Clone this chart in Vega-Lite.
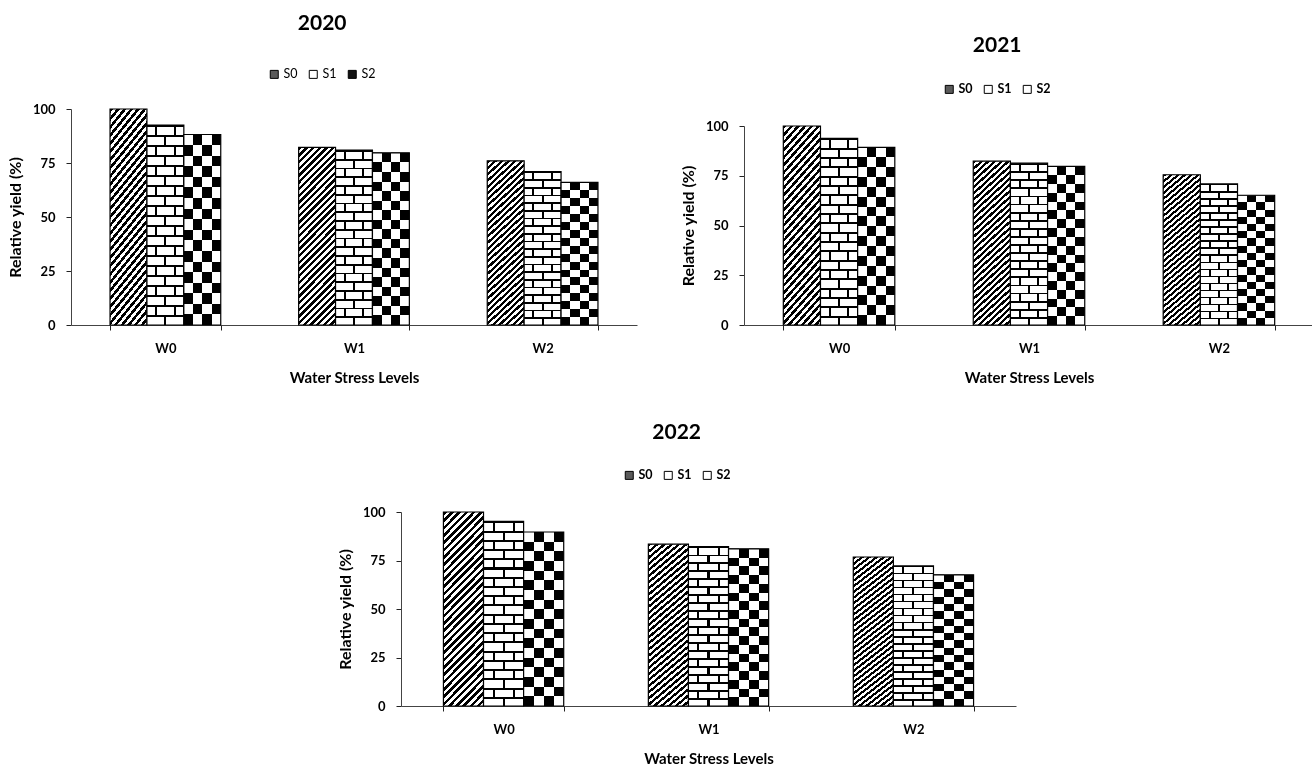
{
  "$schema": "https://vega.github.io/schema/vega-lite/v6.json",
  "background": "white",
  "padding": {"left": 7, "top": 12, "right": 0, "bottom": 0},
  "params": [
    {"name": "gHatch", "value": {"gradient": "linear", "x1": 0, "y1": 0, "x2": 0.243, "y2": 1.159, "stops": [
        {"offset": 0, "color": "#000"},
        {"offset": 0.0156, "color": "#000"}, {"offset": 0.0156, "color": "#fff"},
        {"offset": 0.0313, "color": "#fff"}, {"offset": 0.0313, "color": "#000"},
        {"offset": 0.0469, "color": "#000"}, {"offset": 0.0469, "color": "#fff"},
        {"offset": 0.0625, "color": "#fff"}, {"offset": 0.0625, "color": "#000"},
        {"offset": 0.0781, "color": "#000"}, {"offset": 0.0781, "color": "#fff"},
        {"offset": 0.0938, "color": "#fff"}, {"offset": 0.0938, "color": "#000"},
        {"offset": 0.1094, "color": "#000"}, {"offset": 0.1094, "color": "#fff"},
        {"offset": 0.125, "color": "#fff"}, {"offset": 0.125, "color": "#000"},
        {"offset": 0.1406, "color": "#000"}, {"offset": 0.1406, "color": "#fff"},
        {"offset": 0.1563, "color": "#fff"}, {"offset": 0.1563, "color": "#000"},
        {"offset": 0.1719, "color": "#000"}, {"offset": 0.1719, "color": "#fff"},
        {"offset": 0.1875, "color": "#fff"}, {"offset": 0.1875, "color": "#000"},
        {"offset": 0.2031, "color": "#000"}, {"offset": 0.2031, "color": "#fff"},
        {"offset": 0.2188, "color": "#fff"}, {"offset": 0.2188, "color": "#000"},
        {"offset": 0.2344, "color": "#000"}, {"offset": 0.2344, "color": "#fff"},
        {"offset": 0.25, "color": "#fff"}, {"offset": 0.25, "color": "#000"},
        {"offset": 0.2656, "color": "#000"}, {"offset": 0.2656, "color": "#fff"},
        {"offset": 0.2813, "color": "#fff"}, {"offset": 0.2813, "color": "#000"},
        {"offset": 0.2969, "color": "#000"}, {"offset": 0.2969, "color": "#fff"},
        {"offset": 0.3125, "color": "#fff"}, {"offset": 0.3125, "color": "#000"},
        {"offset": 0.3281, "color": "#000"}, {"offset": 0.3281, "color": "#fff"},
        {"offset": 0.3438, "color": "#fff"}, {"offset": 0.3438, "color": "#000"},
        {"offset": 0.3594, "color": "#000"}, {"offset": 0.3594, "color": "#fff"},
        {"offset": 0.375, "color": "#fff"}, {"offset": 0.375, "color": "#000"},
        {"offset": 0.3906, "color": "#000"}, {"offset": 0.3906, "color": "#fff"},
        {"offset": 0.4063, "color": "#fff"}, {"offset": 0.4063, "color": "#000"},
        {"offset": 0.4219, "color": "#000"}, {"offset": 0.4219, "color": "#fff"},
        {"offset": 0.4375, "color": "#fff"}, {"offset": 0.4375, "color": "#000"},
        {"offset": 0.4531, "color": "#000"}, {"offset": 0.4531, "color": "#fff"},
        {"offset": 0.4688, "color": "#fff"}, {"offset": 0.4688, "color": "#000"},
        {"offset": 0.4844, "color": "#000"}, {"offset": 0.4844, "color": "#fff"},
        {"offset": 0.5, "color": "#fff"}, {"offset": 0.5, "color": "#000"},
        {"offset": 0.5156, "color": "#000"}, {"offset": 0.5156, "color": "#fff"},
        {"offset": 0.5313, "color": "#fff"}, {"offset": 0.5313, "color": "#000"},
        {"offset": 0.5469, "color": "#000"}, {"offset": 0.5469, "color": "#fff"},
        {"offset": 0.5625, "color": "#fff"}, {"offset": 0.5625, "color": "#000"},
        {"offset": 0.5781, "color": "#000"}, {"offset": 0.5781, "color": "#fff"},
        {"offset": 0.5938, "color": "#fff"}, {"offset": 0.5938, "color": "#000"},
        {"offset": 0.6094, "color": "#000"}, {"offset": 0.6094, "color": "#fff"},
        {"offset": 0.625, "color": "#fff"}, {"offset": 0.625, "color": "#000"},
        {"offset": 0.6406, "color": "#000"}, {"offset": 0.6406, "color": "#fff"},
        {"offset": 0.6563, "color": "#fff"}, {"offset": 0.6563, "color": "#000"},
        {"offset": 0.6719, "color": "#000"}, {"offset": 0.6719, "color": "#fff"},
        {"offset": 0.6875, "color": "#fff"}, {"offset": 0.6875, "color": "#000"},
        {"offset": 0.7031, "color": "#000"}, {"offset": 0.7031, "color": "#fff"},
        {"offset": 0.7188, "color": "#fff"}, {"offset": 0.7188, "color": "#000"},
        {"offset": 0.7344, "color": "#000"}, {"offset": 0.7344, "color": "#fff"},
        {"offset": 0.75, "color": "#fff"}, {"offset": 0.75, "color": "#000"},
        {"offset": 0.7656, "color": "#000"}, {"offset": 0.7656, "color": "#fff"},
        {"offset": 0.7813, "color": "#fff"}, {"offset": 0.7813, "color": "#000"},
        {"offset": 0.7969, "color": "#000"}, {"offset": 0.7969, "color": "#fff"},
        {"offset": 0.8125, "color": "#fff"}, {"offset": 0.8125, "color": "#000"},
        {"offset": 0.8281, "color": "#000"}, {"offset": 0.8281, "color": "#fff"},
        {"offset": 0.8438, "color": "#fff"}, {"offset": 0.8438, "color": "#000"},
        {"offset": 0.8594, "color": "#000"}, {"offset": 0.8594, "color": "#fff"},
        {"offset": 0.875, "color": "#fff"}, {"offset": 0.875, "color": "#000"},
        {"offset": 0.8906, "color": "#000"}, {"offset": 0.8906, "color": "#fff"},
        {"offset": 0.9063, "color": "#fff"}, {"offset": 0.9063, "color": "#000"},
        {"offset": 0.9219, "color": "#000"}, {"offset": 0.9219, "color": "#fff"},
        {"offset": 0.9375, "color": "#fff"}, {"offset": 0.9375, "color": "#000"},
        {"offset": 0.9531, "color": "#000"}, {"offset": 0.9531, "color": "#fff"},
        {"offset": 0.9688, "color": "#fff"}, {"offset": 0.9688, "color": "#000"},
        {"offset": 0.9844, "color": "#000"}, {"offset": 0.9844, "color": "#fff"},
        {"offset": 1, "color": "#fff"}
    ]}},
    {"name": "gBrick1", "value": {"gradient": "linear", "x1": 0, "y1": 0, "x2": 0, "y2": 1, "stops": [
        {"offset": 0, "color": "#000"}, {"offset": 0.05, "color": "#000"}, {"offset": 0.05, "color": "#fff"}, {"offset": 0.1, "color": "#fff"},
        {"offset": 0.1, "color": "#000"}, {"offset": 0.15, "color": "#000"}, {"offset": 0.15, "color": "#fff"}, {"offset": 0.2, "color": "#fff"},
        {"offset": 0.2, "color": "#000"}, {"offset": 0.25, "color": "#000"}, {"offset": 0.25, "color": "#fff"}, {"offset": 0.3, "color": "#fff"},
        {"offset": 0.3, "color": "#000"}, {"offset": 0.35, "color": "#000"}, {"offset": 0.35, "color": "#fff"}, {"offset": 0.4, "color": "#fff"},
        {"offset": 0.4, "color": "#000"}, {"offset": 0.45, "color": "#000"}, {"offset": 0.45, "color": "#fff"}, {"offset": 0.5, "color": "#fff"},
        {"offset": 0.5, "color": "#000"}, {"offset": 0.55, "color": "#000"}, {"offset": 0.55, "color": "#fff"}, {"offset": 0.6, "color": "#fff"},
        {"offset": 0.6, "color": "#000"}, {"offset": 0.65, "color": "#000"}, {"offset": 0.65, "color": "#fff"}, {"offset": 0.7, "color": "#fff"},
        {"offset": 0.7, "color": "#000"}, {"offset": 0.75, "color": "#000"}, {"offset": 0.75, "color": "#fff"}, {"offset": 0.8, "color": "#fff"},
        {"offset": 0.8, "color": "#000"}, {"offset": 0.85, "color": "#000"}, {"offset": 0.85, "color": "#fff"}, {"offset": 0.9, "color": "#fff"},
        {"offset": 0.9, "color": "#000"}, {"offset": 0.95, "color": "#000"}, {"offset": 0.95, "color": "#fff"}, {"offset": 1, "color": "#fff"}
    ]}},
    {"name": "gBrick2", "value": {"gradient": "linear", "x1": 0, "y1": 0, "x2": 1, "y2": 0, "stops": [
        {"offset": 0, "color": "#fff"}, {"offset": 0.225, "color": "#fff"}, {"offset": 0.225, "color": "#000"}, {"offset": 0.275, "color": "#000"},
        {"offset": 0.275, "color": "#fff"}, {"offset": 0.475, "color": "#fff"}, {"offset": 0.475, "color": "#000"}, {"offset": 0.525, "color": "#000"},
        {"offset": 0.525, "color": "#fff"}, {"offset": 0.725, "color": "#fff"}, {"offset": 0.725, "color": "#000"}, {"offset": 0.775, "color": "#000"},
        {"offset": 0.775, "color": "#fff"}, {"offset": 1, "color": "#fff"}
    ]}},
    {"name": "gBrick3", "value": {"gradient": "linear", "x1": 0, "y1": 0, "x2": 1, "y2": 0, "stops": [
        {"offset": 0, "color": "#000"}, {"offset": 0.475, "color": "#000"}, {"offset": 0.475, "color": "#fff"}, {"offset": 0.525, "color": "#fff"},
        {"offset": 0.525, "color": "#000"}, {"offset": 1, "color": "#000"}
    ]}},
    {"name": "gBrick4", "value": {"gradient": "linear", "x1": 0, "y1": 0, "x2": 0, "y2": 1, "stops": [
        {"offset": 0, "color": "#000"}, {"offset": 0.011, "color": "#000"}, {"offset": 0.011, "color": "#fff"}, {"offset": 0.05, "color": "#fff"},
        {"offset": 0.05, "color": "#000"}, {"offset": 0.061, "color": "#000"}, {"offset": 0.061, "color": "#fff"}, {"offset": 0.1, "color": "#fff"},
        {"offset": 0.1, "color": "#000"}, {"offset": 0.111, "color": "#000"}, {"offset": 0.111, "color": "#fff"}, {"offset": 0.15, "color": "#fff"},
        {"offset": 0.15, "color": "#000"}, {"offset": 0.161, "color": "#000"}, {"offset": 0.161, "color": "#fff"}, {"offset": 0.2, "color": "#fff"},
        {"offset": 0.2, "color": "#000"}, {"offset": 0.211, "color": "#000"}, {"offset": 0.211, "color": "#fff"}, {"offset": 0.25, "color": "#fff"},
        {"offset": 0.25, "color": "#000"}, {"offset": 0.261, "color": "#000"}, {"offset": 0.261, "color": "#fff"}, {"offset": 0.3, "color": "#fff"},
        {"offset": 0.3, "color": "#000"}, {"offset": 0.311, "color": "#000"}, {"offset": 0.311, "color": "#fff"}, {"offset": 0.35, "color": "#fff"},
        {"offset": 0.35, "color": "#000"}, {"offset": 0.361, "color": "#000"}, {"offset": 0.361, "color": "#fff"}, {"offset": 0.4, "color": "#fff"},
        {"offset": 0.4, "color": "#000"}, {"offset": 0.411, "color": "#000"}, {"offset": 0.411, "color": "#fff"}, {"offset": 0.45, "color": "#fff"},
        {"offset": 0.45, "color": "#000"}, {"offset": 0.461, "color": "#000"}, {"offset": 0.461, "color": "#fff"}, {"offset": 0.5, "color": "#fff"},
        {"offset": 0.5, "color": "#000"}, {"offset": 0.511, "color": "#000"}, {"offset": 0.511, "color": "#fff"}, {"offset": 0.55, "color": "#fff"},
        {"offset": 0.55, "color": "#000"}, {"offset": 0.561, "color": "#000"}, {"offset": 0.561, "color": "#fff"}, {"offset": 0.6, "color": "#fff"},
        {"offset": 0.6, "color": "#000"}, {"offset": 0.611, "color": "#000"}, {"offset": 0.611, "color": "#fff"}, {"offset": 0.65, "color": "#fff"},
        {"offset": 0.65, "color": "#000"}, {"offset": 0.661, "color": "#000"}, {"offset": 0.661, "color": "#fff"}, {"offset": 0.7, "color": "#fff"},
        {"offset": 0.7, "color": "#000"}, {"offset": 0.711, "color": "#000"}, {"offset": 0.711, "color": "#fff"}, {"offset": 0.75, "color": "#fff"},
        {"offset": 0.75, "color": "#000"}, {"offset": 0.761, "color": "#000"}, {"offset": 0.761, "color": "#fff"}, {"offset": 0.8, "color": "#fff"},
        {"offset": 0.8, "color": "#000"}, {"offset": 0.811, "color": "#000"}, {"offset": 0.811, "color": "#fff"}, {"offset": 0.85, "color": "#fff"},
        {"offset": 0.85, "color": "#000"}, {"offset": 0.861, "color": "#000"}, {"offset": 0.861, "color": "#fff"}, {"offset": 0.9, "color": "#fff"},
        {"offset": 0.9, "color": "#000"}, {"offset": 0.911, "color": "#000"}, {"offset": 0.911, "color": "#fff"}, {"offset": 0.95, "color": "#fff"},
        {"offset": 0.95, "color": "#000"}, {"offset": 0.961, "color": "#000"}, {"offset": 0.961, "color": "#fff"}, {"offset": 1, "color": "#fff"}
    ]}},
    {"name": "gDots1", "value": {"gradient": "linear", "x1": 0, "y1": 0, "x2": 1, "y2": 0, "stops": [
        {"offset": 0, "color": "#000"}, {"offset": 0.25, "color": "#000"}, {"offset": 0.25, "color": "#fff"}, {"offset": 0.5, "color": "#fff"},
        {"offset": 0.5, "color": "#000"}, {"offset": 0.75, "color": "#000"}, {"offset": 0.75, "color": "#fff"}, {"offset": 1, "color": "#fff"}
    ]}},
    {"name": "gDots2", "value": {"gradient": "linear", "x1": 0, "y1": 0, "x2": 0, "y2": 1, "stops": [
        {"offset": 0, "color": "#fff"}, {"offset": 0.0556, "color": "#fff"}, {"offset": 0.0556, "color": "#000"}, {"offset": 0.1111, "color": "#000"},
        {"offset": 0.1111, "color": "#fff"}, {"offset": 0.1667, "color": "#fff"}, {"offset": 0.1667, "color": "#000"}, {"offset": 0.2222, "color": "#000"},
        {"offset": 0.2222, "color": "#fff"}, {"offset": 0.2778, "color": "#fff"}, {"offset": 0.2778, "color": "#000"}, {"offset": 0.3333, "color": "#000"},
        {"offset": 0.3333, "color": "#fff"}, {"offset": 0.3889, "color": "#fff"}, {"offset": 0.3889, "color": "#000"}, {"offset": 0.4444, "color": "#000"},
        {"offset": 0.4444, "color": "#fff"}, {"offset": 0.5, "color": "#fff"}, {"offset": 0.5, "color": "#000"}, {"offset": 0.5556, "color": "#000"},
        {"offset": 0.5556, "color": "#fff"}, {"offset": 0.6111, "color": "#fff"}, {"offset": 0.6111, "color": "#000"}, {"offset": 0.6667, "color": "#000"},
        {"offset": 0.6667, "color": "#fff"}, {"offset": 0.7222, "color": "#fff"}, {"offset": 0.7222, "color": "#000"}, {"offset": 0.7778, "color": "#000"},
        {"offset": 0.7778, "color": "#fff"}, {"offset": 0.8333, "color": "#fff"}, {"offset": 0.8333, "color": "#000"}, {"offset": 0.8889, "color": "#000"},
        {"offset": 0.8889, "color": "#fff"}, {"offset": 0.9444, "color": "#fff"}, {"offset": 0.9444, "color": "#000"}, {"offset": 1, "color": "#000"}
    ]}}
  ],
  "data": {"values": [
    {"year": 2020, "W": "W0", "S": "S0", "value": 100},
    {"year": 2020, "W": "W0", "S": "S1", "value": 92.6},
    {"year": 2020, "W": "W0", "S": "S2", "value": 88.2},
    {"year": 2020, "W": "W1", "S": "S0", "value": 82.2},
    {"year": 2020, "W": "W1", "S": "S1", "value": 81.0},
    {"year": 2020, "W": "W1", "S": "S2", "value": 79.7},
    {"year": 2020, "W": "W2", "S": "S0", "value": 76.0},
    {"year": 2020, "W": "W2", "S": "S1", "value": 71.0},
    {"year": 2020, "W": "W2", "S": "S2", "value": 66.0},
    {"year": 2021, "W": "W0", "S": "S0", "value": 100},
    {"year": 2021, "W": "W0", "S": "S1", "value": 93.8},
    {"year": 2021, "W": "W0", "S": "S2", "value": 89.3},
    {"year": 2021, "W": "W1", "S": "S0", "value": 82.3},
    {"year": 2021, "W": "W1", "S": "S1", "value": 81.3},
    {"year": 2021, "W": "W1", "S": "S2", "value": 79.7},
    {"year": 2021, "W": "W2", "S": "S0", "value": 75.5},
    {"year": 2021, "W": "W2", "S": "S1", "value": 70.9},
    {"year": 2021, "W": "W2", "S": "S2", "value": 65.2},
    {"year": 2022, "W": "W0", "S": "S0", "value": 100},
    {"year": 2022, "W": "W0", "S": "S1", "value": 95.2},
    {"year": 2022, "W": "W0", "S": "S2", "value": 89.7},
    {"year": 2022, "W": "W1", "S": "S0", "value": 83.4},
    {"year": 2022, "W": "W1", "S": "S1", "value": 82.2},
    {"year": 2022, "W": "W1", "S": "S2", "value": 81.0},
    {"year": 2022, "W": "W2", "S": "S0", "value": 76.8},
    {"year": 2022, "W": "W2", "S": "S1", "value": 72.2},
    {"year": 2022, "W": "W2", "S": "S2", "value": 67.6}
  ]},
  "vconcat": [
    {
      "hconcat": [
        {
          "vconcat": [
            {"width": 10, "height": 1, "data": {"values": []}, "mark": {"type": "point", "opacity": 0}},
            {
              "title": {"text": "2020", "offset": 34},
              "vconcat": [
                {
                  "width": 566, "height": 216,
                  "transform": [{"filter": "datum.year == 2020"}],
                  "encoding": {
                    "x": {"field": "W", "type": "nominal", "sort": ["W0", "W1", "W2"], "scale": {"paddingInner": 0.413, "paddingOuter": 0.207}, "axis": {"title": "Water Stress Levels"}},
                    "xOffset": {"field": "S", "type": "nominal", "scale": {"domain": ["S0", "S1", "S2"], "paddingInner": 0, "paddingOuter": 0}},
                    "y": {"field": "value", "type": "quantitative", "scale": {"domain": [0, 100], "nice": false}, "axis": {"title": "Relative yield (%)", "values": [0, 25, 50, 75, 100]}}
                  },
                  "layer": [
                    {"mark": {"type": "square", "opacity": 0, "stroke": "#000", "strokeWidth": 1}, "encoding": {"fill": {"field": "S", "type": "nominal", "scale": {"domain": ["S0", "S1", "S2"], "range": ["#5a5a5a", "#ffffff", "#111111"]}, "legend": {"title": null, "labelFontWeight": "normal"}}}},
                    {"transform": [{"filter": "datum.S == 'S0'"}], "mark": {"type": "bar", "fill": {"expr": "gHatch"}, "stroke": "#000", "strokeWidth": 1.2}},
                    {"transform": [{"filter": "datum.S == 'S1'"}], "mark": {"type": "bar", "fill": {"expr": "gBrick1"}}},
                    {"transform": [{"filter": "datum.S == 'S1'"}], "mark": {"type": "bar", "fill": {"expr": "gBrick2"}, "blend": "lighten"}},
                    {"transform": [{"filter": "datum.S == 'S1'"}], "mark": {"type": "bar", "fill": {"expr": "gBrick3"}, "blend": "difference"}},
                    {"transform": [{"filter": "datum.S == 'S1'"}], "mark": {"type": "bar", "fill": {"expr": "gBrick4"}, "blend": "multiply", "stroke": "#000", "strokeWidth": 1.2}},
                    {"transform": [{"filter": "datum.S == 'S2'"}], "mark": {"type": "bar", "fill": {"expr": "gDots1"}, "stroke": "#000", "strokeWidth": 1.2}},
                    {"transform": [{"filter": "datum.S == 'S2'"}], "mark": {"type": "bar", "fill": {"expr": "gDots2"}, "blend": "difference", "stroke": "#000", "strokeWidth": 1.2}}
                  ]
                }
              ]
            }
          ],
          "spacing": 0,
          "resolve": {"scale": {"fill": "independent", "xOffset": "independent"}, "legend": {"fill": "independent"}}
        },
        {
          "vconcat": [
            {"width": 10, "height": 1, "data": {"values": []}, "mark": {"type": "point", "opacity": 0}},
            {
              "title": {"text": ["", "2021"], "offset": 27.5},
              "vconcat": [
                {
                  "width": 570, "height": 199,
                  "transform": [{"filter": "datum.year == 2021"}],
                  "encoding": {
                    "x": {"field": "W", "type": "nominal", "sort": ["W0", "W1", "W2"], "scale": {"paddingInner": 0.413, "paddingOuter": 0.207}, "axis": {"title": "Water Stress Levels"}},
                    "xOffset": {"field": "S", "type": "nominal", "scale": {"domain": ["S0", "S1", "S2"], "paddingInner": 0, "paddingOuter": 0}},
                    "y": {"field": "value", "type": "quantitative", "scale": {"domain": [0, 100], "nice": false}, "axis": {"title": "Relative yield (%)", "values": [0, 25, 50, 75, 100]}}
                  },
                  "layer": [
                    {"mark": {"type": "square", "opacity": 0, "stroke": "#000", "strokeWidth": 1}, "encoding": {"fill": {"field": "S", "type": "nominal", "scale": {"domain": ["S0", "S1", "S2"], "range": ["#5a5a5a", "#ffffff", "#ffffff"]}, "legend": {"title": null, "offset": 24}}}},
                    {"transform": [{"filter": "datum.S == 'S0'"}], "mark": {"type": "bar", "fill": {"expr": "gHatch"}, "stroke": "#000", "strokeWidth": 1.2}},
                    {"transform": [{"filter": "datum.S == 'S1'"}], "mark": {"type": "bar", "fill": {"expr": "gBrick1"}}},
                    {"transform": [{"filter": "datum.S == 'S1'"}], "mark": {"type": "bar", "fill": {"expr": "gBrick2"}, "blend": "lighten"}},
                    {"transform": [{"filter": "datum.S == 'S1'"}], "mark": {"type": "bar", "fill": {"expr": "gBrick3"}, "blend": "difference"}},
                    {"transform": [{"filter": "datum.S == 'S1'"}], "mark": {"type": "bar", "fill": {"expr": "gBrick4"}, "blend": "multiply", "stroke": "#000", "strokeWidth": 1.2}},
                    {"transform": [{"filter": "datum.S == 'S2'"}], "mark": {"type": "bar", "fill": {"expr": "gDots1"}, "stroke": "#000", "strokeWidth": 1.2}},
                    {"transform": [{"filter": "datum.S == 'S2'"}], "mark": {"type": "bar", "fill": {"expr": "gDots2"}, "blend": "difference", "stroke": "#000", "strokeWidth": 1.2}}
                  ]
                }
              ]
            }
          ],
          "spacing": 0,
          "resolve": {"scale": {"fill": "independent", "xOffset": "independent"}, "legend": {"fill": "independent"}}
        }
      ],
      "spacing": 43,
      "resolve": {"scale": {"fill": "independent", "xOffset": "independent"}, "legend": {"fill": "independent"}}
    },
    {
      "hconcat": [
        {"width": 246, "height": 10, "data": {"values": []}, "mark": {"type": "point", "opacity": 0}},
        {
          "title": {"text": "2022", "offset": 26.5},
          "vconcat": [
            {
              "width": 615, "height": 194,
              "transform": [{"filter": "datum.year == 2022"}],
              "encoding": {
                "x": {"field": "W", "type": "nominal", "sort": ["W0", "W1", "W2"], "scale": {"paddingInner": 0.413, "paddingOuter": 0.207}, "axis": {"title": "Water Stress Levels"}},
                "xOffset": {"field": "S", "type": "nominal", "scale": {"domain": ["S0", "S1", "S2"], "paddingInner": 0, "paddingOuter": 0}},
                "y": {"field": "value", "type": "quantitative", "scale": {"domain": [0, 100], "nice": false}, "axis": {"title": "Relative yield (%)", "values": [0, 25, 50, 75, 100]}}
              },
              "layer": [
                {"mark": {"type": "square", "opacity": 0, "stroke": "#000", "strokeWidth": 1}, "encoding": {"fill": {"field": "S", "type": "nominal", "scale": {"domain": ["S0", "S1", "S2"], "range": ["#5a5a5a", "#ffffff", "#ffffff"]}, "legend": {"title": null, "offset": 24}}}},
                {"transform": [{"filter": "datum.S == 'S0'"}], "mark": {"type": "bar", "fill": {"expr": "gHatch"}, "stroke": "#000", "strokeWidth": 1.2}},
                {"transform": [{"filter": "datum.S == 'S1'"}], "mark": {"type": "bar", "fill": {"expr": "gBrick1"}}},
                {"transform": [{"filter": "datum.S == 'S1'"}], "mark": {"type": "bar", "fill": {"expr": "gBrick2"}, "blend": "lighten"}},
                {"transform": [{"filter": "datum.S == 'S1'"}], "mark": {"type": "bar", "fill": {"expr": "gBrick3"}, "blend": "difference"}},
                {"transform": [{"filter": "datum.S == 'S1'"}], "mark": {"type": "bar", "fill": {"expr": "gBrick4"}, "blend": "multiply", "stroke": "#000", "strokeWidth": 1.2}},
                {"transform": [{"filter": "datum.S == 'S2'"}], "mark": {"type": "bar", "fill": {"expr": "gDots1"}, "stroke": "#000", "strokeWidth": 1.2}},
                {"transform": [{"filter": "datum.S == 'S2'"}], "mark": {"type": "bar", "fill": {"expr": "gDots2"}, "blend": "difference", "stroke": "#000", "strokeWidth": 1.2}}
              ]
            }
          ]
        }
      ],
      "spacing": 20,
      "resolve": {"scale": {"fill": "independent", "xOffset": "independent"}, "legend": {"fill": "independent"}}
    }
  ],
  "spacing": 36,
  "resolve": {"scale": {"fill": "independent", "xOffset": "independent"}, "legend": {"fill": "independent"}},
  "config": {
    "view": {"stroke": null},
    "title": {"font": "Lato", "fontSize": 21, "fontWeight": "bold", "color": "#000", "anchor": "middle", "frame": "bounds", "offset": 33, "lineHeight": 21},
    "axis": {"labelFont": "Lato", "labelFontWeight": "bold", "labelFontSize": 13, "labelColor": "#000", "titleFont": "Lato", "titleFontWeight": "bold", "titleColor": "#000", "domainColor": "#444", "tickColor": "#222", "grid": false, "tickSize": 5},
    "axisX": {"labelAngle": 0, "labelPadding": 12, "titlePadding": 15, "titleFontSize": 15, "tickBand": "extent"},
    "axisY": {"labelPadding": 11, "titlePadding": 9, "titleFontSize": 16},
    "legend": {"orient": "top", "direction": "horizontal", "labelFont": "Lato", "labelFontSize": 12.5, "labelFontWeight": "bold", "labelColor": "#000", "symbolType": "square", "symbolSize": 64, "symbolStrokeColor": "#000", "symbolStrokeWidth": 1, "symbolOpacity": 1, "offset": 22, "columnPadding": 9, "labelOffset": 3, "layout": {"top": {"anchor": "middle"}}}
  }
}
